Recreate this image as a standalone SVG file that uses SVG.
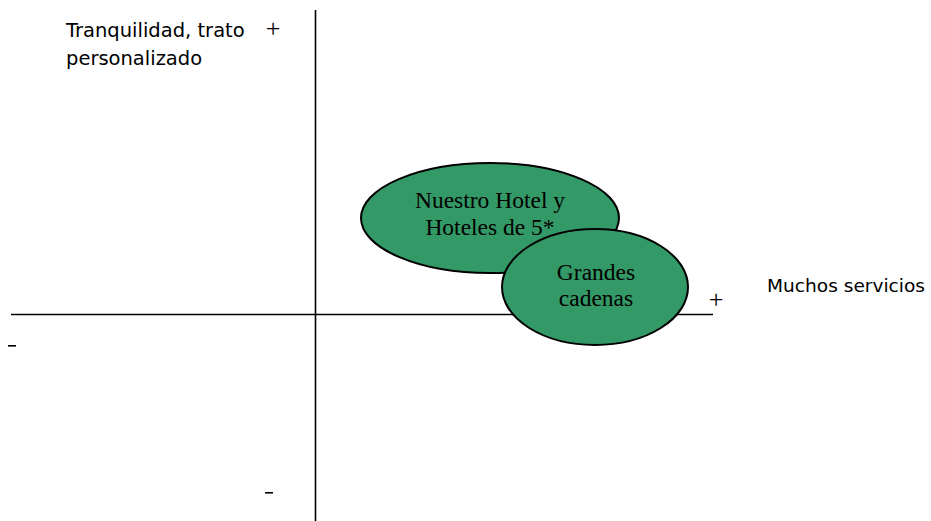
<svg xmlns="http://www.w3.org/2000/svg" width="931" height="521" viewBox="0 0 931 521">
<style>
.axis{stroke:#000;stroke-width:1.6;fill:none}
.node{fill:#339966;stroke:#000;stroke-width:2}
.lbl{font-family:"Liberation Serif","Times New Roman",serif;font-size:23.5px;fill:#000;text-anchor:middle}
.ax{font-family:"Comic Sans MS","DejaVu Sans",sans-serif;font-size:19.5px;fill:#000}
.sign{font-family:"Liberation Serif",serif;font-size:26px;fill:#000;text-anchor:middle}
</style>
<rect width="931" height="521" fill="#fff"/>
<g id="axes">
<line class="axis" x1="11" y1="314.5" x2="713" y2="314.5"/>
<line class="axis" x1="315.5" y1="10" x2="315.5" y2="521"/>
</g>
<g id="axis-labels">
<text class="ax" x="66" y="37">Tranquilidad, trato</text>
<text class="ax" x="66" y="65">personalizado</text>
<text class="sign" x="273" y="37">+</text>
<text class="ax" x="767" y="292" style="font-size:18px" textLength="158" lengthAdjust="spacingAndGlyphs">Muchos servicios</text>
<text class="sign" x="716" y="308">+</text>
<rect x="8" y="345" width="8" height="1.6" fill="#000"/>
<rect x="265" y="492" width="8" height="1.6" fill="#000"/>
</g>
<g id="nuestro-hotel">
<ellipse class="node" cx="490" cy="218" rx="129" ry="55"/>
<text class="lbl" x="490" y="208">Nuestro Hotel y</text>
<text class="lbl" x="490" y="235">Hoteles de 5*</text>
</g>
<g id="grandes-cadenas">
<ellipse class="node" cx="595" cy="287" rx="93" ry="58"/>
<text class="lbl" x="596" y="280">Grandes</text>
<text class="lbl" x="596" y="306">cadenas</text>
</g>
<g id="connectors"></g>
</svg>
